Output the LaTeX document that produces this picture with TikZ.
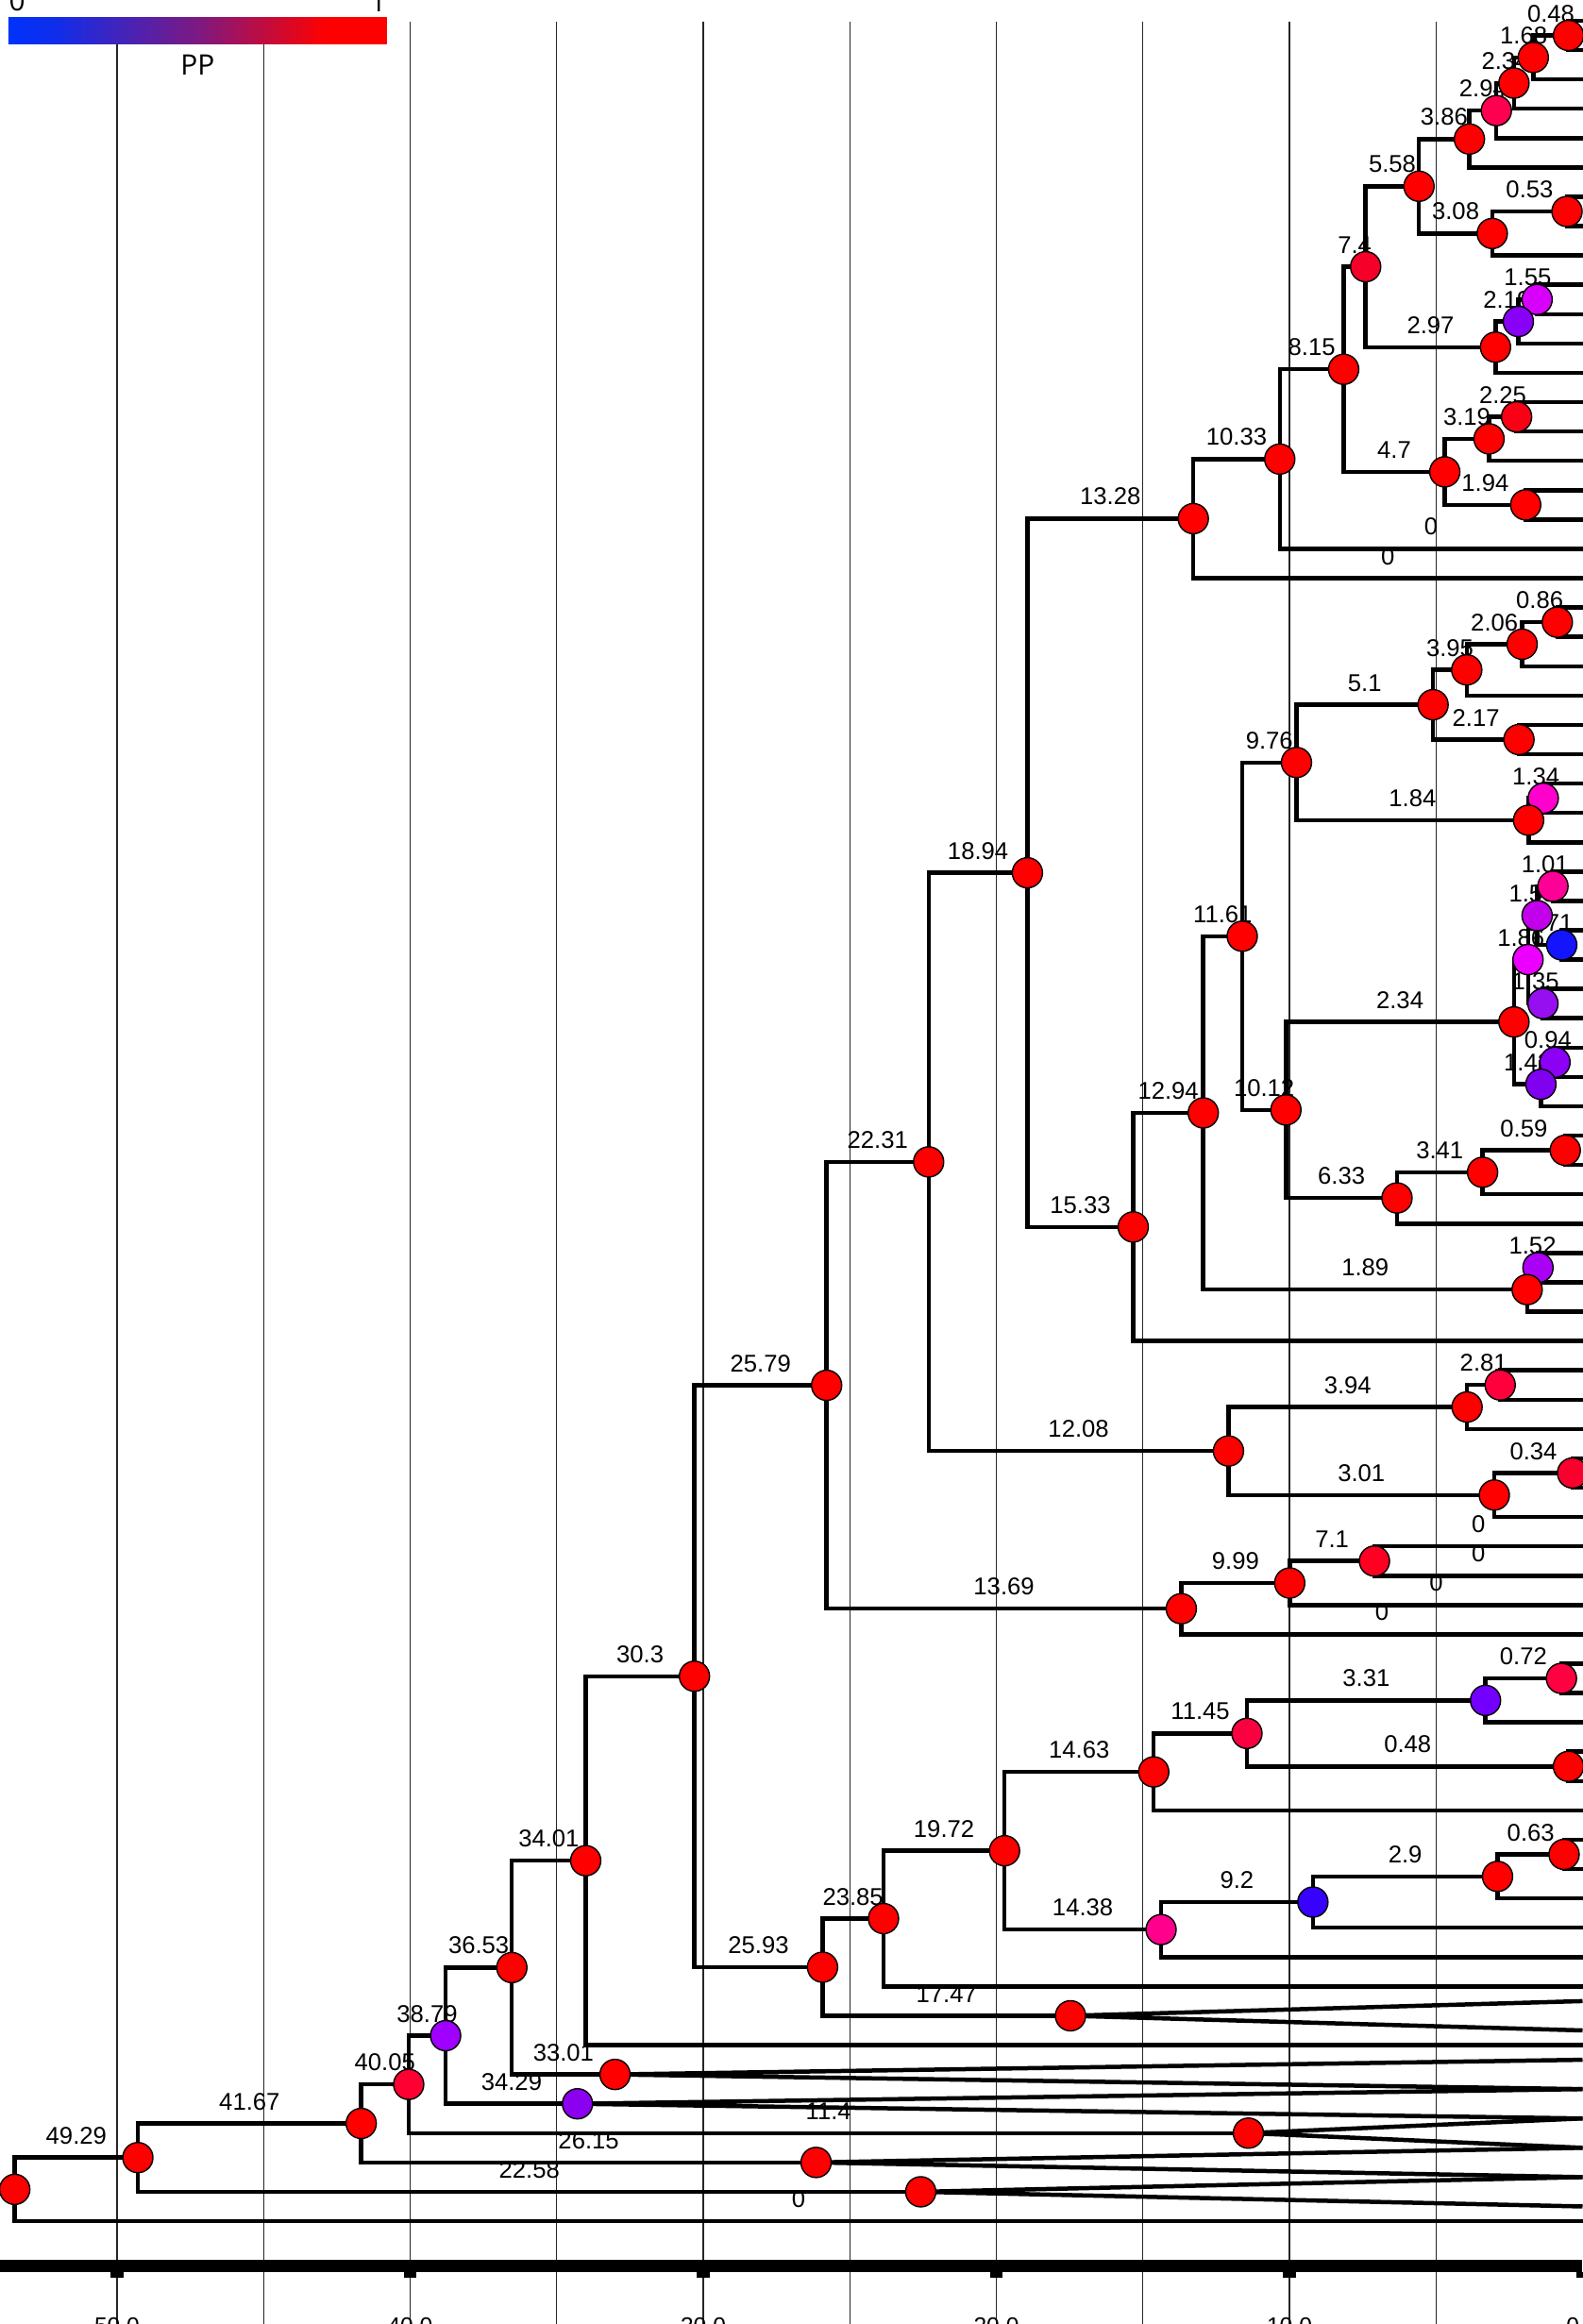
\documentclass[tikz,border=0pt]{standalone}
\usepackage{fontspec}
\setmainfont{Liberation Sans}
\newfontfamily\legendfont{Open Sans}
\usetikzlibrary{calc}
\pgfdeclarelayer{grid}
\pgfdeclarelayer{labels}
\pgfdeclarelayer{lines}
\pgfsetlayers{grid,labels,lines,main}
% colours of the posterior values
\definecolor{ppblue}{RGB}{0,50,250}
\definecolor{ppbluetwo}{RGB}{15,45,235}
\definecolor{ppmid}{RGB}{125,25,130}
\definecolor{c294}{RGB}{255,0,80}
\definecolor{c740}{RGB}{245,0,40}
\definecolor{c155a}{RGB}{215,0,250}
\definecolor{c219}{RGB}{136,0,245}
\definecolor{c225}{RGB}{250,0,20}
\definecolor{c134}{RGB}{255,0,205}
\definecolor{c101}{RGB}{255,0,150}
\definecolor{c155b}{RGB}{195,0,235}
\definecolor{c071}{RGB}{20,20,255}
\definecolor{c186}{RGB}{235,0,255}
\definecolor{c135}{RGB}{150,15,240}
\definecolor{c094}{RGB}{140,0,245}
\definecolor{c142}{RGB}{128,0,240}
\definecolor{c152}{RGB}{170,0,245}
\definecolor{c281}{RGB}{255,0,60}
\definecolor{c034}{RGB}{250,0,45}
\definecolor{c710}{RGB}{255,0,35}
\definecolor{c072}{RGB}{255,0,65}
\definecolor{c331}{RGB}{115,0,255}
\definecolor{c1145}{RGB}{250,0,65}
\definecolor{c920}{RGB}{55,0,255}
\definecolor{c1438}{RGB}{255,0,140}
\definecolor{c3879}{RGB}{160,0,255}
\definecolor{c4005}{RGB}{255,0,50}
\definecolor{c3429}{RGB}{140,0,240}
\pgfdeclarehorizontalshading{ppbar}{100bp}{color(0bp)=(ppblue); color(25bp)=(ppblue); color(31bp)=(ppbluetwo); color(50bp)=(ppmid); color(67bp)=(red); color(100bp)=(red)}
\tikzset{
  branch/.style={line width=0.45mm},
  gridline/.style={line width=0.11mm, black!85},
  ppnode/.style={circle, draw=black, line width=0.14mm, fill=#1, minimum size=3.2mm, inner sep=0pt},
  agelabel/.style={anchor=south, inner sep=0pt, yshift=1.35mm, font=\fontsize{7.3}{8}\selectfont},
  ticklabel/.style={anchor=north, inner sep=0pt, font=\fontsize{7}{8}\selectfont},
}
% branch with its age written above
\newcommand{\branch}[3]{%
  \begin{pgfonlayer}{labels}
    \path (#1.center |- #2.center) -- node[agelabel] {#3} (#2.center);
  \end{pgfonlayer}
  \begin{pgfonlayer}{lines}
    \draw[branch] (#1.center) |- (#2.center);
  \end{pgfonlayer}}
% branch without label
\newcommand{\twig}[2]{%
  \begin{pgfonlayer}{lines}
    \draw[branch] (#1.center) |- (#2.center);
  \end{pgfonlayer}}
% collapsed clade
\newcommand{\collapsed}[2]{%
  \begin{pgfonlayer}{lines}
    \draw[branch] (0,#2-0.5) -- (#1.center) -- (0,#2+0.5);
  \end{pgfonlayer}}
\begin{document}
\begin{tikzpicture}[x=-3.105mm, y=-3.108mm]
\useasboundingbox (53.994,-0.708) rectangle (0.016,78.507);
\begin{pgfonlayer}{grid}
\foreach \a in {5,10,...,50} {
\draw[gridline] (\a,0.03) -- (\a,78.6);};
\end{pgfonlayer}
% axis
\fill (53.994,76.33) rectangle (0.016,76.75);
\foreach \a in {50,40,30,20,10,0} {
\fill (\a+0.21,76.74) rectangle (\a-0.21,76.93);
\node[ticklabel] (tick\a) at (\a,78.28) {\a.0};};
% legend
\shade[shading=ppbar] (53.704,-0.1287) rectangle (40.789,0.7722);
\node[anchor=south west, inner sep=0pt, font=\legendfont\fontsize{8.5}{9}\selectfont] (lgzero) at (53.704,-0.299) {0};
\node[anchor=south east, inner sep=0pt, font=\legendfont\fontsize{8.5}{9}\selectfont] (lgone) at (40.789,-0.299) {1};
\node[anchor=base, inner sep=0pt, font=\legendfont\fontsize{8.5}{9}\selectfont] (lgpp) at (47.25,1.866) {PP};
% tips
\foreach \i in {0,...,75} {
\coordinate (t\i) at (0,\i);};
% internal nodes: (age, row)
\node[ppnode=red] (n048a) at (0.48,0.5) {};
\node[ppnode=red] (n168) at (1.68,1.25) {};
\node[ppnode=red] (n234a) at (2.34,2.125) {};
\node[ppnode=c294] (n294) at (2.94,3.0625) {};
\node[ppnode=red] (n386) at (3.86,4.03125) {};
\node[ppnode=red] (n053) at (0.53,6.5) {};
\node[ppnode=red] (n308) at (3.08,7.25) {};
\node[ppnode=red] (n558) at (5.58,5.6406) {};
\node[ppnode=c155a] (n155a) at (1.55,9.5) {};
\node[ppnode=c219] (n219) at (2.19,10.25) {};
\node[ppnode=red] (n297) at (2.97,11.125) {};
\node[ppnode=c740] (n740) at (7.4,8.3828) {};
\node[ppnode=c225] (n225) at (2.25,13.5) {};
\node[ppnode=red] (n319) at (3.19,14.25) {};
\node[ppnode=red] (n194) at (1.94,16.5) {};
\node[ppnode=red] (n470) at (4.7,15.375) {};
\node[ppnode=red] (n815) at (8.15,11.8789) {};
\node[ppnode=red] (n1033) at (10.33,14.9395) {};
\node[ppnode=red] (n1328) at (13.28,16.9697) {};
\node[ppnode=red] (n086) at (0.86,20.5) {};
\node[ppnode=red] (n206) at (2.06,21.25) {};
\node[ppnode=red] (n395) at (3.95,22.125) {};
\node[ppnode=red] (n217) at (2.17,24.5) {};
\node[ppnode=red] (n510) at (5.1,23.3125) {};
\node[ppnode=c134] (n134) at (1.34,26.5) {};
\node[ppnode=red] (n184) at (1.84,27.25) {};
\node[ppnode=red] (n976) at (9.76,25.2813) {};
\node[ppnode=c101] (n101) at (1.01,29.5) {};
\node[ppnode=c071] (n071) at (0.71,31.5) {};
\node[ppnode=c155b] (n155b) at (1.55,30.5) {};
\node[ppnode=c135] (n135) at (1.35,33.5) {};
\node[ppnode=c186] (n186) at (1.86,32) {};
\node[ppnode=c094] (n094) at (0.94,35.5) {};
\node[ppnode=c142] (n142) at (1.42,36.25) {};
\node[ppnode=red] (n234b) at (2.34,34.125) {};
\node[ppnode=red] (n059) at (0.59,38.5) {};
\node[ppnode=red] (n341) at (3.41,39.25) {};
\node[ppnode=red] (n633) at (6.33,40.125) {};
\node[ppnode=red] (n1012) at (10.12,37.125) {};
\node[ppnode=red] (n1161) at (11.61,31.2031) {};
\node[ppnode=c152] (n152) at (1.52,42.5) {};
\node[ppnode=red] (n189) at (1.89,43.25) {};
\node[ppnode=red] (n1294) at (12.94,37.2266) {};
\node[ppnode=red] (n1533) at (15.33,41.1133) {};
\node[ppnode=red] (n1894) at (18.94,29.0415) {};
\node[ppnode=c281] (n281) at (2.81,46.5) {};
\node[ppnode=red] (n394) at (3.94,47.25) {};
\node[ppnode=c034] (n034) at (0.34,49.5) {};
\node[ppnode=red] (n301) at (3.01,50.25) {};
\node[ppnode=red] (n1208) at (12.08,48.75) {};
\node[ppnode=red] (n2231) at (22.31,38.8958) {};
\node[ppnode=c710] (n710) at (7.1,52.5) {};
\node[ppnode=red] (n999) at (9.99,53.25) {};
\node[ppnode=red] (n1369) at (13.69,54.125) {};
\node[ppnode=red] (n2579) at (25.79,46.5104) {};
\node[ppnode=c072] (n072) at (0.72,56.5) {};
\node[ppnode=c331] (n331) at (3.31,57.25) {};
\node[ppnode=red] (n048b) at (0.48,59.5) {};
\node[ppnode=c1145] (n1145) at (11.45,58.375) {};
\node[ppnode=red] (n1463) at (14.63,59.6875) {};
\node[ppnode=red] (n063) at (0.63,62.5) {};
\node[ppnode=red] (n290) at (2.9,63.25) {};
\node[ppnode=c920] (n920) at (9.2,64.125) {};
\node[ppnode=c1438] (n1438) at (14.38,65.0625) {};
\node[ppnode=red] (n1972) at (19.72,62.375) {};
\node[ppnode=red] (n2385) at (23.85,64.6875) {};
\node[ppnode=red] (n1747) at (17.47,68) {};
\node[ppnode=red] (n2593) at (25.93,66.3438) {};
\node[ppnode=red] (n3030) at (30.3,56.4271) {};
\node[ppnode=red] (n3401) at (34.01,62.7136) {};
\node[ppnode=red] (n3301) at (33.01,70) {};
\node[ppnode=red] (n3653) at (36.53,66.3568) {};
\node[ppnode=c3429] (n3429) at (34.29,71) {};
\node[ppnode=c3879] (n3879) at (38.79,68.6784) {};
\node[ppnode=red] (n1140) at (11.4,72) {};
\node[ppnode=c4005] (n4005) at (40.05,70.3392) {};
\node[ppnode=red] (n2615) at (26.15,73) {};
\node[ppnode=red] (n4167) at (41.67,71.6696) {};
\node[ppnode=red] (n2258) at (22.58,74) {};
\node[ppnode=red] (n4929) at (49.29,72.8348) {};
\node[ppnode=red] (root) at (53.49,73.9174) {};
% backbone
\branch{root}{n4929}{49.29} \branch{root}{t75}{0}
\branch{n4929}{n4167}{41.67} \branch{n4929}{n2258}{22.58}
\branch{n4167}{n4005}{40.05} \branch{n4167}{n2615}{26.15}
\branch{n4005}{n3879}{38.79} \branch{n4005}{n1140}{11.4}
\branch{n3879}{n3653}{36.53} \branch{n3879}{n3429}{34.29}
\branch{n3653}{n3401}{34.01} \branch{n3653}{n3301}{33.01}
\branch{n3401}{n3030}{30.3} \twig{n3401}{t69}
\branch{n3030}{n2579}{25.79} \branch{n3030}{n2593}{25.93}
% collapsed clades
\collapsed{n1747}{68} \collapsed{n3301}{70} \collapsed{n3429}{71}
\collapsed{n1140}{72} \collapsed{n2615}{73} \collapsed{n2258}{74}
% lower clade
\branch{n2593}{n2385}{23.85} \branch{n2593}{n1747}{17.47}
\branch{n2385}{n1972}{19.72} \twig{n2385}{t67}
\branch{n1972}{n1463}{14.63} \branch{n1972}{n1438}{14.38}
\branch{n1438}{n920}{9.2} \twig{n1438}{t66}
\branch{n920}{n290}{2.9} \twig{n920}{t65}
\branch{n290}{n063}{0.63} \twig{n290}{t64}
\twig{n063}{t62} \twig{n063}{t63}
\branch{n1463}{n1145}{11.45} \twig{n1463}{t61}
\branch{n1145}{n331}{3.31} \branch{n1145}{n048b}{0.48}
\twig{n048b}{t59} \twig{n048b}{t60}
\branch{n331}{n072}{0.72} \twig{n331}{t58}
\twig{n072}{t56} \twig{n072}{t57}
% middle clades
\branch{n2579}{n2231}{22.31} \branch{n2579}{n1369}{13.69}
\branch{n1369}{n999}{9.99} \branch{n1369}{t55}{0}
\branch{n999}{n710}{7.1} \branch{n999}{t54}{0}
\branch{n710}{t52}{0} \branch{n710}{t53}{0}
\branch{n2231}{n1894}{18.94} \branch{n2231}{n1208}{12.08}
\branch{n1208}{n394}{3.94} \branch{n1208}{n301}{3.01}
\branch{n394}{n281}{2.81} \twig{n394}{t48}
\twig{n281}{t46} \twig{n281}{t47}
\branch{n301}{n034}{0.34} \twig{n301}{t51}
\twig{n034}{t49} \twig{n034}{t50}
\branch{n1894}{n1328}{13.28} \branch{n1894}{n1533}{15.33}
% upper clade
\branch{n1328}{n1033}{10.33} \branch{n1328}{t19}{0}
\branch{n1033}{n815}{8.15} \branch{n1033}{t18}{0}
\branch{n815}{n740}{7.4} \branch{n815}{n470}{4.7}
\branch{n740}{n558}{5.58} \branch{n740}{n297}{2.97}
\branch{n558}{n386}{3.86} \branch{n558}{n308}{3.08}
\branch{n386}{n294}{2.94} \twig{n386}{t5}
\branch{n294}{n234a}{2.34} \twig{n294}{t4}
\branch{n234a}{n168}{1.68} \twig{n234a}{t3}
\branch{n168}{n048a}{0.48} \twig{n168}{t2}
\twig{n048a}{t0} \twig{n048a}{t1}
\branch{n308}{n053}{0.53} \twig{n308}{t8}
\twig{n053}{t6} \twig{n053}{t7}
\branch{n297}{n219}{2.19} \twig{n297}{t12}
\branch{n219}{n155a}{1.55} \twig{n219}{t11}
\twig{n155a}{t9} \twig{n155a}{t10}
\branch{n470}{n319}{3.19} \branch{n470}{n194}{1.94}
\branch{n319}{n225}{2.25} \twig{n319}{t15}
\twig{n225}{t13} \twig{n225}{t14}
\twig{n194}{t16} \twig{n194}{t17}
% clade under 15.33
\branch{n1533}{n1294}{12.94} \twig{n1533}{t45}
\branch{n1294}{n1161}{11.61} \branch{n1294}{n189}{1.89}
\branch{n189}{n152}{1.52} \twig{n189}{t44}
\twig{n152}{t42} \twig{n152}{t43}
\branch{n1161}{n976}{9.76} \branch{n1161}{n1012}{10.12}
\branch{n976}{n510}{5.1} \branch{n976}{n184}{1.84}
\branch{n510}{n395}{3.95} \branch{n510}{n217}{2.17}
\branch{n395}{n206}{2.06} \twig{n395}{t23}
\branch{n206}{n086}{0.86} \twig{n206}{t22}
\twig{n086}{t20} \twig{n086}{t21}
\twig{n217}{t24} \twig{n217}{t25}
\branch{n184}{n134}{1.34} \twig{n184}{t28}
\twig{n134}{t26} \twig{n134}{t27}
\branch{n1012}{n234b}{2.34} \branch{n1012}{n633}{6.33}
\branch{n234b}{n186}{1.86} \branch{n234b}{n142}{1.42}
\branch{n186}{n155b}{1.55} \branch{n186}{n135}{1.35}
\branch{n155b}{n101}{1.01} \branch{n155b}{n071}{0.71}
\twig{n101}{t29} \twig{n101}{t30}
\twig{n071}{t31} \twig{n071}{t32}
\twig{n135}{t33} \twig{n135}{t34}
\branch{n142}{n094}{0.94} \twig{n142}{t37}
\twig{n094}{t35} \twig{n094}{t36}
\branch{n633}{n341}{3.41} \twig{n633}{t41}
\branch{n341}{n059}{0.59} \twig{n341}{t40}
\twig{n059}{t38} \twig{n059}{t39}
\end{tikzpicture}
\end{document}
